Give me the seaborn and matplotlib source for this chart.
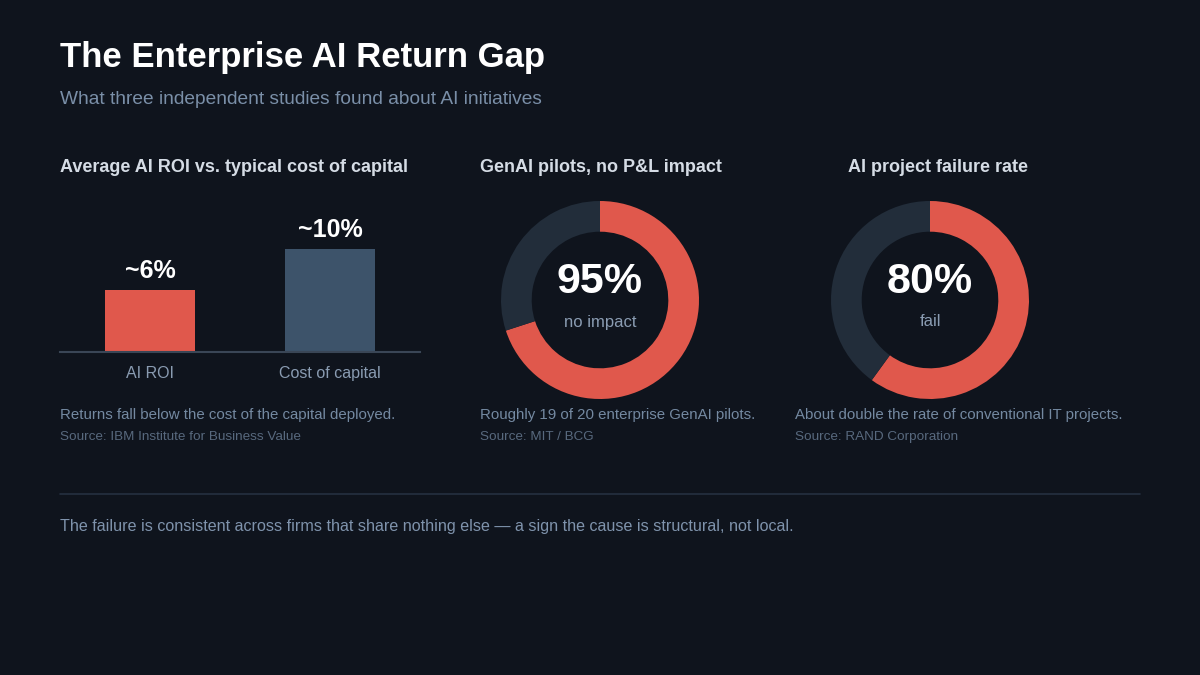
import matplotlib
matplotlib.use("Agg")
import matplotlib.pyplot as plt
import seaborn as sns

# data
bar_categories = ["AI ROI", "Cost of capital"]
bar_values = [6, 10]
bar_labels = ["~6%", "~10%"]

donut_titles = ["GenAI pilots, no P&L impact", "AI project failure rate"]
donut_values = ["95%", "80%"]
donut_units = ["no impact", "fail"]
# share of the ring painted red
donut_arc_share = [70, 60]
donut_captions = ["Roughly 19 of 20 enterprise GenAI pilots.",
                  "About double the rate of conventional IT projects."]
donut_sources = ["Source: MIT / BCG", "Source: RAND Corporation"]

# colours
BG = "#0f141d"
RED = "#e0584c"
SLATE = "#3d536a"
TRACK = "#222d3a"
TITLE = "#ffffff"
SUB = "#7a8fa8"
PANEL = "#d5dce5"
TICK = "#8a9cb2"
CAPTION = "#7489a1"
SOURCE = "#58697e"
RULE = "#253040"

sns.set_theme(style="dark", rc={"figure.facecolor": BG, "axes.facecolor": BG})
plt.rcParams["font.family"] = ["Liberation Sans", "DejaVu Sans"]

W, H = 1200, 675
fig = plt.figure(figsize=(12, 6.75), dpi=100)
fig.patch.set_facecolor(BG)


def txt(x, y, s, size, color, weight="normal", ha="left", va="center"):
    fig.text(x / W, 1 - y / H, s, fontsize=size, color=color,
             fontweight=weight, ha=ha, va=va)


def box(x0, y0, x1, y1):
    return [x0 / W, 1 - y1 / H, (x1 - x0) / W, (y1 - y0) / H]


# header
txt(60, 57, "The Enterprise AI Return Gap", 25, TITLE, "bold")
txt(60, 100, "What three independent studies found about AI initiatives", 13.8, SUB)

# panel 1: bar chart
txt(60, 167, "Average AI ROI vs. typical cost of capital", 13, PANEL, "bold")
ax = fig.add_axes(box(60, 200, 420, 352))
sns.barplot(x=bar_categories, y=bar_values, hue=bar_categories,
            palette=[RED, SLATE], width=0.5, saturation=1, legend=False,
            linewidth=0, edgecolor="none", ax=ax)
ax.set_xlim(-0.5, 1.5)
ax.set_ylim(0, 152 / 10.35)
ax.set_facecolor(BG)
for s in ["top", "right", "left"]:
    ax.spines[s].set_visible(False)
ax.spines["bottom"].set_color("#3a4656")
ax.spines["bottom"].set_linewidth(1.5)
ax.set_yticks([])
ax.set_xlabel("")
ax.set_ylabel("")
ax.tick_params(axis="x", length=0, pad=10, labelsize=11.5, labelcolor=TICK)
for i, (v, lab) in enumerate(zip(bar_values, bar_labels)):
    ax.annotate(lab, (i, v), xytext=(0, 5), textcoords="offset points",
                ha="center", va="bottom", fontsize=18, fontweight="bold", color=TITLE)
txt(60, 415, "Returns fall below the cost of the capital deployed.", 10.8, CAPTION)
txt(60, 437, "Source: IBM Institute for Business Value", 9.7, SOURCE)

# panels 2 and 3: donuts
centers = [600, 930]
title_x = [480, 848]
caption_x = [480, 795]
R = 99
for k in range(2):
    cx, cy = centers[k], 300
    txt(title_x[k], 167, donut_titles[k], 13, PANEL, "bold")
    dax = fig.add_axes(box(cx - R, cy - R, cx + R, cy + R))
    share = donut_arc_share[k]
    dax.pie([share, 100 - share], colors=[RED, TRACK], startangle=90,
            counterclock=False, radius=1,
            wedgeprops=dict(width=0.31, linewidth=0))
    dax.set_xlim(-1, 1)
    dax.set_ylim(-1, 1)
    dax.set_aspect("equal")
    dax.axis("off")
    txt(cx, 282, donut_values[k], 31, TITLE, "bold", ha="center")
    txt(cx, 322, donut_units[k], 12, TICK, ha="center")
    txt(caption_x[k], 415, donut_captions[k], 10.8, CAPTION)
    txt(caption_x[k], 437, donut_sources[k], 9.7, SOURCE)

# divider and footer
fig.add_artist(plt.Line2D([60 / W, 1140 / W], [1 - 494 / H, 1 - 494 / H],
                          color=RULE, linewidth=1.2))
txt(60, 527, "The failure is consistent across firms that share nothing else \u2014 "
    "a sign the cause is structural, not local.", 11.65, "#7f93ac")

fig.savefig("out.png", dpi=100, facecolor=BG)
